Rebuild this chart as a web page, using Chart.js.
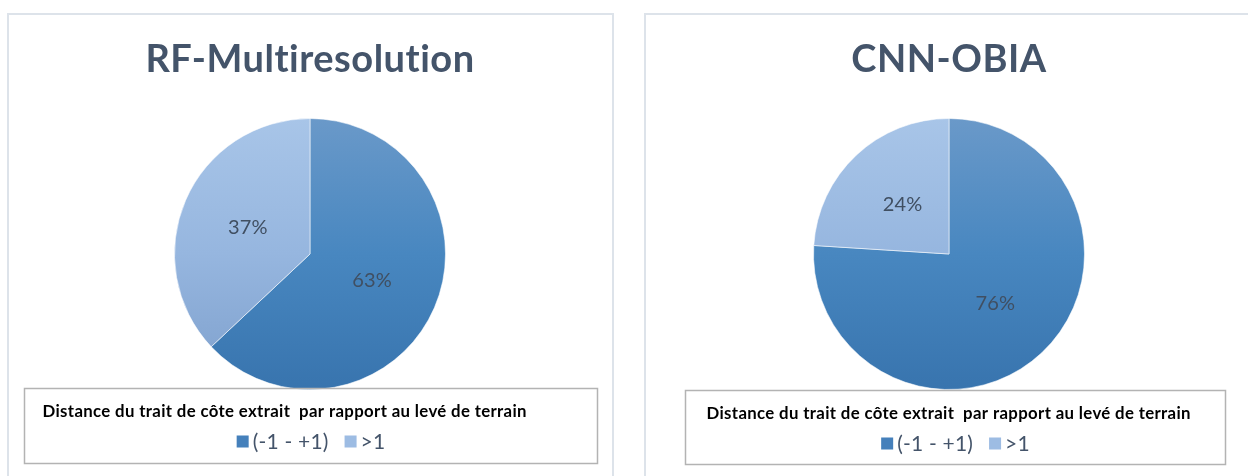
<!DOCTYPE html>
<html><head><meta charset="utf-8">
<script src="https://cdn.jsdelivr.net/npm/chart.js@4/dist/chart.umd.min.js"></script>
<style>
html,body{margin:0;padding:0;background:#fff;width:1248px;height:476px;overflow:hidden;position:relative;}
.panel{position:absolute;border:2px solid #dde3ea;box-sizing:border-box;}
.wrap{position:absolute;}
</style></head><body>
<div class="panel" style="left:7px;top:13px;width:607px;height:480px"></div>
<div class="panel" style="left:644px;top:13px;width:620px;height:480px"></div>
<div class="wrap" style="left:7px;top:13px;width:606px;height:463px"><canvas id="c1"></canvas></div>
<div class="wrap" style="left:645px;top:13px;width:608px;height:463px"><canvas id="c2"></canvas></div>
<script>
const categories = ['(-1 - +1)', '>1'];
const rfValues = [63, 37];
const cnnValues = [76, 24];
const chartTitles = ['RF-Multiresolution', 'CNN-OBIA'];
const legendTitle = 'Distance du trait de côte extrait  par rapport au levé de terrain';

const FONT = 'Lato, "Open Sans", sans-serif';
const TXT = '#44546a';

function grad(chart, i) {
  const a = chart.chartArea;
  if (!a) return i === 0 ? '#4a86bf' : '#97b6de';
  const g = chart.ctx.createLinearGradient(0, a.top, 0, a.bottom);
  if (i === 0) { g.addColorStop(0, '#6a99c9'); g.addColorStop(0.5, '#4887c0'); g.addColorStop(1, '#3874ae'); }
  else { g.addColorStop(0, '#a8c5e8'); g.addColorStop(0.5, '#96b6df'); g.addColorStop(1, '#7d9fcc'); }
  return g;
}

const spacingPlugin = {
  id: 'spacing',
  beforeDraw(chart) { if ('letterSpacing' in chart.ctx) chart.ctx.letterSpacing = '0.5px'; }
};

const labelPlugin = {
  id: 'pctLabels',
  afterDatasetsDraw(chart) {
    const ctx = chart.ctx;
    const meta = chart.getDatasetMeta(0);
    const vals = chart.data.datasets[0].data;
    ctx.save();
    if ('letterSpacing' in ctx) ctx.letterSpacing = '0.2px';
    ctx.font = '20px ' + FONT;
    ctx.fillStyle = '#404f62';
    ctx.textAlign = 'center';
    ctx.textBaseline = 'middle';
    meta.data.forEach((el, i) => {
      const p = el.getCenterPoint();
      ctx.fillText(vals[i] + '%', p.x, p.y);
    });
    ctx.restore();
  }
};

const boxLegendPlugin = {
  id: 'boxLegend',
  afterDraw(chart, args, opts) {
    const ctx = chart.ctx;
    const [bx, by, bw, bh] = opts.box;
    ctx.save();
    ctx.strokeStyle = '#b3b3b3';
    ctx.lineWidth = 1.5;
    ctx.strokeRect(bx, by, bw, bh);
    if ('letterSpacing' in ctx) ctx.letterSpacing = '0.35px';
    ctx.font = 'bold 16.8px ' + FONT;
    ctx.fillStyle = '#000';
    ctx.textAlign = 'left';
    ctx.textBaseline = 'middle';
    ctx.fillText(legendTitle, bx + opts.titleX, by + 23);
    if ('letterSpacing' in ctx) ctx.letterSpacing = '0.2px';
    ctx.font = '21px ' + FONT;
    const labels = chart.data.labels;
    const sq = 12, g1 = 4, g2 = 16;
    const widths = labels.map(l => ctx.measureText(l).width);
    let total = widths.reduce((s, w) => s + w + sq + g1, 0) + g2 * (labels.length - 1);
    let x = bx + bw / 2 - total / 2;
    const y = by + 53;
    labels.forEach((l, i) => {
      ctx.fillStyle = i === 0 ? '#4580bb' : '#9dbce3';
      ctx.fillRect(x, y - sq / 2, sq, sq);
      x += sq + g1;
      ctx.fillStyle = TXT;
      ctx.fillText(l, x, y + 1);
      x += widths[i] + g2;
    });
    ctx.restore();
  }
};

function makeChart(id, title, values, box, titleX) {
  return new Chart(document.getElementById(id), {
    type: 'pie',
    data: {
      labels: categories,
      datasets: [{
        data: values,
        backgroundColor: (c) => grad(c.chart, c.dataIndex),
        borderColor: 'rgba(255,255,255,0.55)',
        borderWidth: 1,
        hoverOffset: 0
      }]
    },
    options: {
      responsive: true,
      maintainAspectRatio: false,
      animation: false,
      layout: { padding: { top: 0, bottom: 86, left: 0, right: 0 } },
      plugins: {
        legend: { display: false },
        tooltip: { enabled: false },
        title: {
          display: true,
          text: title,
          color: TXT,
          font: { family: FONT, size: 38, weight: 'bold', lineHeight: 1.2 },
          padding: { top: 24, bottom: 35.4 }
        },
        boxLegend: { box: box, titleX: titleX }
      }
    },
    plugins: [spacingPlugin, labelPlugin, boxLegendPlugin]
  });
}

makeChart('c1', chartTitles[0], rfValues, [17.5, 375.5, 573, 75], 18);
makeChart('c2', chartTitles[1], cnnValues, [40.5, 377.5, 540, 74], 21);
</script>
</body></html>
